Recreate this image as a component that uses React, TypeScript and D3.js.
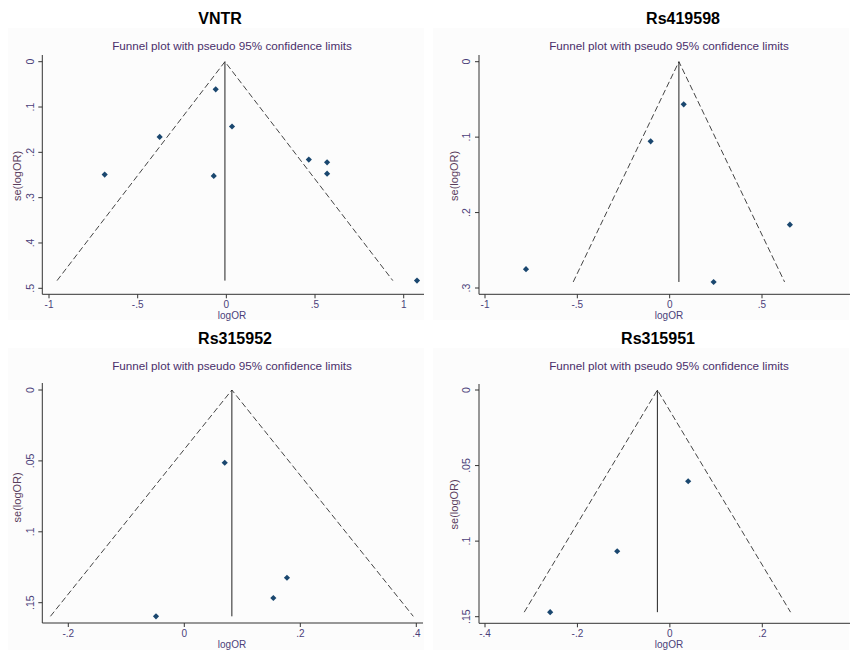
import React, { useEffect, useRef } from 'react'
import * as d3 from 'd3'

// funnel plot data: logOR and its standard error per study
const titles = ['VNTR', 'Rs419598', 'Rs315952', 'Rs315951']

const vntrLogOR = [-0.06, 0.032, -0.376, -0.686, -0.071, 0.465, 0.568, 0.568, 1.075]
const vntrSe = [0.061, 0.143, 0.166, 0.249, 0.252, 0.216, 0.222, 0.247, 0.483]
const rs419598LogOR = [0.076, -0.103, 0.651, -0.778, 0.238]
const rs419598Se = [0.0565, 0.1056, 0.216, 0.275, 0.292]
const rs315952LogOR = [0.0697, 0.177, 0.1535, -0.0488]
const rs315952Se = [0.0513, 0.1324, 0.1467, 0.1596]
const rs315951LogOR = [0.0396, -0.114, -0.259]
const rs315951Se = [0.0604, 0.1067, 0.147]

// pooled (fixed effect) estimates = position of the vertical line
const pooled = [-0.008, 0.05, 0.082, -0.027]

const xTicks = [
  [-1, -0.5, 0, 0.5, 1],
  [-1, -0.5, 0, 0.5],
  [-0.2, 0, 0.2, 0.4],
  [-0.4, -0.2, 0, 0.2]
]
const yTicks = [
  [0, 0.1, 0.2, 0.3, 0.4, 0.5],
  [0, 0.1, 0.2, 0.3],
  [0, 0.05, 0.1, 0.15],
  [0, 0.05, 0.1, 0.15]
]

const subtitle = 'Funnel plot with pseudo 95% confidence limits'
const xLabel = 'logOR'
const yLabel = 'se(logOR)'

// layout of the four panels (pixels, relative to each panel's corner)
const layout = [
  {ox: 0, oy: 0, yAxisX: 42.3, xAxisY: 294.3, xr: [49, 403.7], yr: [61.7, 288.3], xEnd: 424, yTop: 55, titleX: 220, subX: 232},
  {ox: 425, oy: 0, yAxisX: 54, xAxisY: 294.3, xr: [60, 337], yr: [61.7, 288], xEnd: 425, yTop: 55, titleX: 258, subX: 244},
  {ox: 0, oy: 320, yAxisX: 42.3, xAxisY: 303, xr: [68.3, 416.3], yr: [70, 282.7], xEnd: 423, yTop: 63, titleX: 235, subX: 232},
  {ox: 425, oy: 320, yAxisX: 54, xAxisY: 303.3, xr: [60, 337.3], yr: [70, 296.7], xEnd: 425, yTop: 64, titleX: 233, subX: 244}
]

const fmt = (v: number) => String(+v.toFixed(3)).replace(/^(-?)0\./, '$1.')

const font = '"Liberation Sans", Arial, sans-serif'

export default function App() {
  const ref = useRef<SVGSVGElement>(null)

  useEffect(() => {
    const svg = d3.select(ref.current)
    svg.selectAll('*').remove()
    svg.append('rect').attr('width', 850).attr('height', 650).attr('fill', '#fff')

    const series = [
      [vntrLogOR, vntrSe],
      [rs419598LogOR, rs419598Se],
      [rs315952LogOR, rs315952Se],
      [rs315951LogOR, rs315951Se]
    ]

    series.forEach(([lor, se], i) => {
      const L = layout[i]
      const g = svg.append('g').attr('transform', `translate(${L.ox},${L.oy})`)
      const yt = yTicks[i], xt = xTicks[i]

      // graph region
      g.append('rect')
        .attr('x', 8).attr('y', 28)
        .attr('width', 416).attr('height', i < 2 ? 292 : 302)
        .attr('fill', '#fcfcfc')

      const x = d3.scaleLinear().domain([xt[0], xt[xt.length - 1]]).range(L.xr)
      const y = d3.scaleLinear().domain([yt[0], yt[yt.length - 1]]).range(L.yr)

      g.append('text')
        .attr('x', L.titleX).attr('y', 24)
        .attr('text-anchor', 'middle')
        .attr('font-family', font).attr('font-weight', 'bold').attr('font-size', 16)
        .attr('fill', '#000')
        .text(titles[i])

      g.append('text')
        .attr('x', L.subX).attr('y', 50)
        .attr('text-anchor', 'middle')
        .attr('font-family', font).attr('font-size', 11.7)
        .attr('fill', '#4a2f6b')
        .text(subtitle)

      // axes
      g.append('line')
        .attr('x1', L.yAxisX).attr('x2', L.yAxisX)
        .attr('y1', L.yTop).attr('y2', L.xAxisY)
        .attr('stroke', '#333').attr('stroke-width', 1)
      g.append('line')
        .attr('x1', L.yAxisX).attr('x2', L.xEnd)
        .attr('y1', L.xAxisY).attr('y2', L.xAxisY)
        .attr('stroke', '#333').attr('stroke-width', 1)

      g.selectAll('.ytick').data(yt).enter().append('line')
        .attr('x1', L.yAxisX - 4).attr('x2', L.yAxisX)
        .attr('y1', d => y(d)).attr('y2', d => y(d))
        .attr('stroke', '#333')
      g.selectAll('.ylab').data(yt).enter().append('text')
        .attr('transform', d => `translate(${L.yAxisX - 12.3},${y(d)}) rotate(-90)`)
        .attr('text-anchor', 'middle').attr('dy', '0.35em')
        .attr('font-family', font).attr('font-size', 10.5)
        .attr('fill', '#4b3f7a')
        .text(d => fmt(d))

      g.selectAll('.xtick').data(xt).enter().append('line')
        .attr('x1', d => x(d)).attr('x2', d => x(d))
        .attr('y1', L.xAxisY).attr('y2', L.xAxisY + 4)
        .attr('stroke', '#333')
      g.selectAll('.xlab').data(xt).enter().append('text')
        .attr('x', d => x(d)).attr('y', L.xAxisY + 14)
        .attr('text-anchor', 'middle')
        .attr('font-family', font).attr('font-size', 10)
        .attr('fill', '#4b3f7a')
        .text(d => fmt(d))

      g.append('text')
        .attr('x', L.subX).attr('y', L.xAxisY + 25)
        .attr('text-anchor', 'middle')
        .attr('font-family', font).attr('font-size', 10)
        .attr('fill', '#4b3f7a')
        .text(xLabel)

      g.append('text')
        .attr('transform', `translate(${L.yAxisX - 25},${(L.yr[0] + L.yr[1]) / 2 + 1}) rotate(-90)`)
        .attr('text-anchor', 'middle').attr('dy', '0.35em')
        .attr('font-family', font).attr('font-size', 11)
        .attr('fill', '#5a3d5c')
        .text(yLabel)

      // pseudo 95% limits
      const maxSe = d3.max(se as number[]) as number
      const p = pooled[i]
      const funnel = d3.line<[number, number]>().x(d => x(d[0])).y(d => y(d[1]))
      g.append('path')
        .attr('d', funnel([[p - 1.96 * maxSe, maxSe], [p, 0], [p + 1.96 * maxSe, maxSe]]))
        .attr('fill', 'none').attr('stroke', '#444').attr('stroke-width', 1)
        .attr('stroke-dasharray', '6,3')
      g.append('line')
        .attr('x1', x(p)).attr('x2', x(p))
        .attr('y1', y(0)).attr('y2', y(maxSe))
        .attr('stroke', '#222').attr('stroke-width', 1)

      const marker = d3.symbol().type(d3.symbolSquare).size(19)
      g.selectAll('.pt').data(lor as number[]).enter().append('path')
        .attr('d', marker())
        .attr('transform', (d, j) => `translate(${x(d)},${y((se as number[])[j])}) rotate(45)`)
        .attr('fill', '#1a476f')
    })
  }, [])

  return (
    <div style={{position: 'absolute', left: 0, top: 0}}>
      <svg ref={ref} width={850} height={650} style={{display: 'block'}} />
    </div>
  )
}
